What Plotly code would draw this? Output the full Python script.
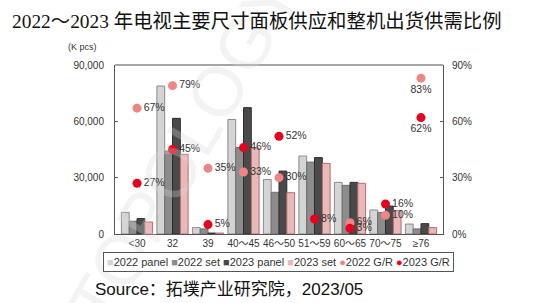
import plotly.graph_objects as go

categories = ["<30", "32", "39", "40～45", "46～50", "51～59", "60～65", "70～75", "≥76"]
panel_2022 = [11500, 78800, 3400, 61000, 29000, 41500, 27500, 12800, 5300]
set_2022 = [6800, 44200, 2700, 46000, 22200, 38300, 25900, 11500, 2700]
panel_2023 = [8200, 61600, 500, 67300, 33500, 40700, 27500, 14900, 5500]
set_2023 = [6400, 42400, 500, 45800, 22000, 37600, 27000, 12400, 3400]
gr_2022 = [67, 79, 35, 33, 30, None, 6, 10, 83]
gr_2023 = [27, 45, 5, 46, 52, 8, 3, 16, 62]
series_names = ["2022 panel", "2022 set", "2023 panel", "2023 set", "2022 G/R", "2023 G/R"]
series_colors = ["#D4D4D4", "#8C8C8C", "#4A4A4A", "#E8B9B9", "#F08585", "#E8001C"]
series_symbols = ["■", "■", "■", "■", "●", "●"]

def lbl(vals):
    return [f"{v}%" if v is not None else "" for v in vals]

pos = ["middle right"] * 8 + ["bottom center"]

FONT = "Liberation Sans, Arial, Noto Sans CJK SC"

fig = go.Figure()
outlines = ["#8A8A8A", "#6E6E6E", "#2E2E2E", "#B86A6A"]
for name, vals, col, oc in zip(series_names[:4], [panel_2022, set_2022, panel_2023, set_2023],
                               series_colors[:4], outlines):
    fig.add_bar(x=categories, y=vals, name=name,
                marker=dict(color=col, line=dict(color=oc, width=1)))
for name, vals, col in zip(series_names[4:], [gr_2022, gr_2023], series_colors[4:]):
    fig.add_scatter(x=categories, y=vals, name=name, yaxis="y2", mode="markers+text",
                    marker=dict(color=col, size=9), text=lbl(vals), textposition=pos,
                    textfont=dict(size=10.5, color="#333333", family=FONT))

axis_font = dict(size=10, color="#333333")
fig.update_layout(
    width=554, height=303,
    margin=dict(l=115, r=111, t=65, b=69),
    paper_bgcolor="white", plot_bgcolor="white",
    font=dict(family=FONT, size=10, color="#333333"),
    barmode="group", bargap=0.12, bargroupgap=0.0,
    showlegend=False,
    xaxis=dict(showline=True, linecolor="#555555", linewidth=1, mirror=False,
               ticks="", tickangle=0, automargin=False, tickfont=axis_font),
    yaxis=dict(range=[0, 90000], dtick=30000, tickformat=",", showgrid=False,
               showline=True, linecolor="#555555", linewidth=1, ticks="inside",
               ticklen=3, tickcolor="#555555", zeroline=False, automargin=False,
               ticklabelstandoff=8, tickfont=axis_font),
    yaxis2=dict(range=[0, 90], dtick=30, ticksuffix="%", overlaying="y", side="right",
                showgrid=False, showline=True, linecolor="#555555", linewidth=1,
                ticks="inside", ticklen=3, tickcolor="#555555", zeroline=False,
                automargin=False, ticklabelstandoff=6, tickfont=axis_font),
)

fig.add_shape(type="line", xref="paper", yref="paper", x0=0, x1=1, y0=1, y1=1,
              line=dict(color="#888888", width=1.5))

fig.add_annotation(text="TOPOLOGY", xref="paper", yref="paper", x=-0.2, y=0.5,
                   showarrow=False, textangle=-60,
                   font=dict(size=70, color="rgba(215,215,215,0.3)", family=FONT))

legend_text = "".join(
    f"<span style='color:{c}'>{s}</span>{n} " for n, c, s in zip(series_names, series_colors, series_symbols)
).strip()
fig.add_annotation(text=legend_text, xref="paper", yref="paper",
                   x=0.497, y=-0.165, xanchor="center", yanchor="middle", showarrow=False,
                   bordercolor="#555555", borderwidth=1, borderpad=3, bgcolor="white",
                   font=dict(size=11, color="#333333"))

fig.add_annotation(text="2022～2023 年电视主要尺寸面板供应和整机出货供需比例", xref="paper", yref="paper",
                   x=-0.32, y=1.255, xanchor="left", yanchor="middle", showarrow=False,
                   font=dict(size=19.4, color="#111111", family="Liberation Serif, Noto Sans CJK SC"))
fig.add_annotation(text="(K pcs)", xref="paper", yref="paper",
                   x=-0.05, y=1.107, xanchor="right", yanchor="middle", showarrow=False,
                   font=dict(size=9, color="#333333"))
fig.add_annotation(text="Source：拓墣产业研究院，2023/05", xref="paper", yref="paper",
                   x=-0.067, y=-0.331, xanchor="left", yanchor="middle", showarrow=False,
                   font=dict(size=17, color="#111111", family=FONT))

fig.write_html("out.html")
